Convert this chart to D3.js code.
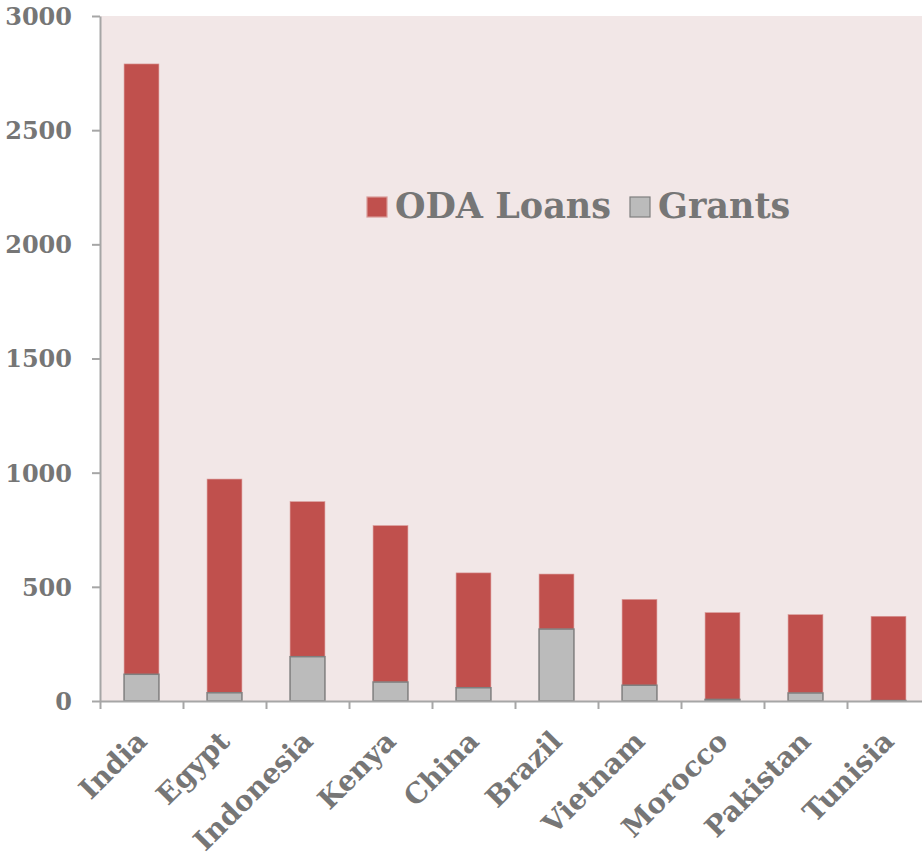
<!DOCTYPE html>
<html>
<head>
<meta charset="utf-8">
<script src="https://cdn.jsdelivr.net/npm/d3@7"></script>
<style>
  body { margin: 0; background: #ffffff; }
  svg text { font-family: "DejaVu Serif", Georgia, serif; font-weight: bold; fill: #767676; }
</style>
</head>
<body>
<svg width="922" height="856"></svg>
<script>
var countries = ["India", "Egypt", "Indonesia", "Kenya", "China", "Brazil", "Vietnam", "Morocco", "Pakistan", "Tunisia"];
var grants = [117, 36, 194, 83, 58, 315, 69, 7, 35, 2];
var odaLoans = [2673, 936, 679, 685, 503, 241, 376, 380, 343, 369];
var yTicks = [0, 500, 1000, 1500, 2000, 2500, 3000];
var seriesNames = ["ODA Loans", "Grants"];

let plotLeft = 100, plotRight = 930, plotTop = 16, plotBottom = 701;

var svg = d3.select("svg");

var xBand = d3.scaleBand(countries, [plotLeft, plotRight]);
var xEdge = d3.scaleLinear([0, countries.length], [plotLeft, plotRight]);
var y = d3.scaleLinear([0, 3000], [plotBottom, plotTop]);

svg.append("rect")
    .attr("x", plotLeft)
    .attr("y", plotTop)
    .attr("width", plotRight - plotLeft)
    .attr("height", plotBottom - plotTop)
    .attr("fill", "#f2e7e7");

var rows = countries.map(function(c, i) {
    return { name: c, grants: grants[i], loans: odaLoans[i] };
});

var barW = xBand.bandwidth() * 0.42;

// loans stacked on top of grants
svg.append("g")
    .selectAll("rect")
    .data(rows)
    .enter()
        .append("rect")
        .attr("x", function(d) { return xBand(d.name) + (xBand.bandwidth() - barW) / 2; })
        .attr("y", function(d) { return y(d.grants + d.loans); })
        .attr("width", barW)
        .attr("height", function(d) { return y(d.grants) - y(d.grants + d.loans); })
        .attr("fill", "#c0504d")
        .attr("stroke", "#d99a98")
        .attr("stroke-width", 0.6);

svg.append("g")
    .selectAll("rect")
    .data(rows)
    .enter()
        .append("rect")
        .attr("x", function(d) { return xBand(d.name) + (xBand.bandwidth() - barW) / 2; })
        .attr("y", function(d) { return y(d.grants); })
        .attr("width", barW)
        .attr("height", function(d) { return y(0) - y(d.grants); })
        .attr("fill", "#bbbbbb")
        .attr("stroke", "#7f7f7f")
        .attr("stroke-width", 1.5);

var yAxis = d3.axisLeft(y).tickValues(yTicks).tickFormat(d3.format("d"))
    .tickSize(8).tickSizeOuter(0).tickPadding(20);
var gy = svg.append("g")
    .attr("transform", "translate(" + plotLeft + ",0)")
    .call(yAxis);
gy.selectAll("text").style("font-size", "24px").attr("dy", "0.35em");

var xAxis = d3.axisBottom(xEdge).tickValues(d3.range(countries.length + 1)).tickFormat("").tickSize(8).tickSizeOuter(0);
svg.append("g")
    .attr("transform", "translate(0," + plotBottom + ")")
    .call(xAxis);

svg.selectAll(".domain, .tick line")
    .attr("stroke", "#a6a6a6")
    .attr("stroke-width", 2);

svg.append("g")
    .selectAll("text")
    .data(countries)
    .enter()
        .append("text")
        .attr("transform", function(d) {
            return "translate(" + (xBand(d) + xBand.bandwidth() / 2 + 7) + "," + (plotBottom + 42) + ") rotate(-45)";
        })
        .attr("text-anchor", "end")
        .style("font-size", "28px")
        .text(function(d) { return d; });

// legend
var legend = svg.append("g").attr("transform", "translate(367,197)");
var legendX = [0, 263];
var legendColors = [["#c0504d", "#d99a98"], ["#bbbbbb", "#7f7f7f"]];
seriesNames.forEach(function(name, i) {
    legend.append("rect")
        .attr("x", legendX[i])
        .attr("y", 0)
        .attr("width", 20)
        .attr("height", 20)
        .attr("fill", legendColors[i][0])
        .attr("stroke", legendColors[i][1])
        .attr("stroke-width", 1.2);
    legend.append("text")
        .attr("x", legendX[i] + 28)
        .attr("y", 21)
        .style("font-size", "35px")
        .text(name);
});
</script>
</body>
</html>
